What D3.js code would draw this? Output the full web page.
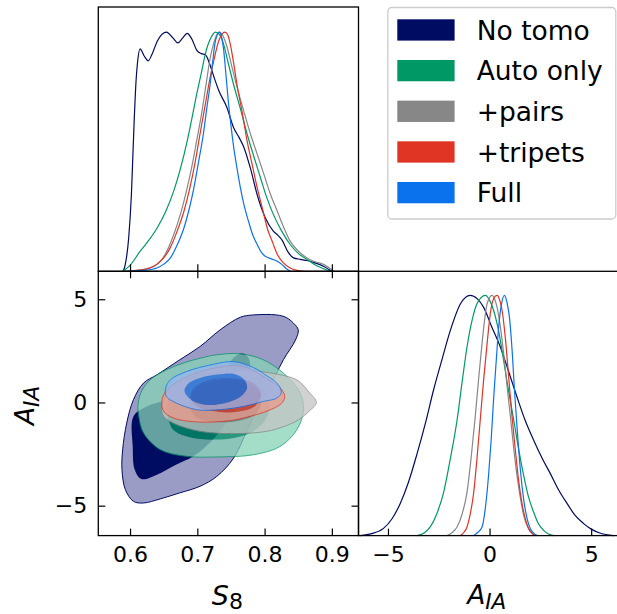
<!DOCTYPE html>
<html>
<head>
<meta charset="utf-8">
<script src="https://cdn.jsdelivr.net/npm/d3@7"></script>
<style>
  body { margin: 0; background: #fff; }
  svg { display: block; font-family: "DejaVu Sans", sans-serif; }
</style>
</head>
<body>
<div id="chart"></div>
<script>
// series, in drawing order
const seriesNames = ["No tomo", "Auto only", "+pairs", "+tripets", "Full"];
const seriesColors = ["#000b62", "#009966", "#878787", "#e03424", "#0a72ec"];
const lightColors = ["#9a9cc6", "#87d3b6", "#c4c4c4", "#ee9a8c", "#93b6f0"];
const layerAlpha = [1, 0.75, 0.75, 0.75, 0.75];

const s8Ticks = [0.6, 0.7, 0.8, 0.9];
const aiaTicks = [-5, 0, 5];

// 1D marginals of S8: [S8, P/Pmax]
const s8NoTomo = [[0.590,0],[0.593,0.03],[0.598,0.14],[0.602,0.32],[0.606,0.62],[0.609,0.8],[0.611,0.87],[0.615,0.93],[0.621,0.90],[0.627,0.88],[0.633,0.91],[0.641,0.965],[0.654,1.0],[0.664,0.975],[0.671,0.955],[0.678,0.975],[0.685,0.995],[0.692,0.97],[0.699,0.925],[0.706,0.91],[0.712,0.905],[0.718,0.87],[0.725,0.81],[0.732,0.755],[0.744,0.685],[0.754,0.60],[0.762,0.56],[0.769,0.52],[0.779,0.43],[0.789,0.32],[0.801,0.224],[0.813,0.168],[0.820,0.15],[0.826,0.13],[0.835,0.08],[0.843,0.056],[0.853,0.05],[0.863,0.045],[0.875,0.035],[0.888,0.02],[0.900,0]];
const s8Auto = [[0.589,0],[0.600,0.025],[0.615,0.084],[0.628,0.13],[0.640,0.18],[0.653,0.25],[0.665,0.336],[0.675,0.43],[0.685,0.545],[0.692,0.64],[0.699,0.74],[0.706,0.83],[0.712,0.91],[0.720,0.975],[0.727,1.0],[0.733,0.99],[0.739,0.95],[0.746,0.87],[0.754,0.78],[0.764,0.68],[0.774,0.574],[0.784,0.48],[0.794,0.39],[0.803,0.31],[0.813,0.238],[0.825,0.17],[0.838,0.112],[0.850,0.075],[0.863,0.05],[0.880,0.02],[0.898,0]];
const s8Pairs = [[0.593,0],[0.620,0.008],[0.640,0.028],[0.652,0.07],[0.665,0.154],[0.675,0.24],[0.685,0.35],[0.692,0.44],[0.699,0.545],[0.707,0.67],[0.714,0.80],[0.719,0.89],[0.724,0.95],[0.732,1.0],[0.738,0.985],[0.744,0.94],[0.751,0.86],[0.759,0.77],[0.769,0.67],[0.779,0.574],[0.789,0.49],[0.799,0.405],[0.809,0.32],[0.819,0.25],[0.829,0.18],[0.838,0.126],[0.850,0.085],[0.863,0.056],[0.875,0.04],[0.888,0.028],[0.903,0]];
const s8Triplets = [[0.593,0],[0.615,0.005],[0.630,0.014],[0.640,0.03],[0.650,0.056],[0.660,0.1],[0.670,0.168],[0.680,0.25],[0.689,0.35],[0.697,0.46],[0.704,0.574],[0.712,0.70],[0.719,0.81],[0.726,0.90],[0.732,0.965],[0.741,1.0],[0.745,0.99],[0.749,0.95],[0.754,0.87],[0.759,0.78],[0.767,0.66],[0.774,0.545],[0.782,0.44],[0.789,0.35],[0.797,0.26],[0.804,0.18],[0.812,0.12],[0.819,0.07],[0.828,0.035],[0.838,0.014],[0.850,0.003],[0.860,0]];
const s8Full = [[0.598,0],[0.620,0.004],[0.640,0.014],[0.650,0.03],[0.660,0.056],[0.670,0.11],[0.680,0.18],[0.687,0.25],[0.694,0.336],[0.702,0.46],[0.709,0.574],[0.714,0.68],[0.719,0.78],[0.723,0.88],[0.727,0.965],[0.733,1.0],[0.736,0.98],[0.739,0.93],[0.742,0.84],[0.746,0.713],[0.750,0.61],[0.754,0.52],[0.759,0.43],[0.764,0.35],[0.770,0.27],[0.776,0.21],[0.782,0.155],[0.789,0.112],[0.795,0.08],[0.801,0.063],[0.807,0.055],[0.813,0.049],[0.820,0.04],[0.826,0.028],[0.832,0.012],[0.838,0]];

// 1D marginals of A_IA: [A_IA, P/Pmax]
const aNoTomo = [[-6.37,0],[-5.8,0.008],[-5.22,0.03],[-4.8,0.07],[-4.40,0.133],[-4.0,0.22],[-3.57,0.34],[-3.15,0.47],[-2.76,0.605],[-2.35,0.73],[-1.93,0.854],[-1.43,0.965],[-0.95,1.0],[-0.6,0.985],[-0.29,0.95],[0.1,0.87],[0.53,0.785],[0.95,0.68],[1.35,0.577],[1.75,0.48],[2.17,0.397],[2.6,0.32],[2.99,0.258],[3.4,0.19],[3.82,0.133],[4.2,0.085],[4.63,0.05],[5.0,0.027],[5.46,0.01],[6.1,0]];
const aAuto = [[-3.57,0],[-3.2,0.012],[-2.92,0.036],[-2.6,0.09],[-2.26,0.18],[-1.93,0.32],[-1.60,0.48],[-1.35,0.64],[-1.11,0.785],[-0.85,0.9],[-0.62,0.965],[-0.21,1.0],[0.0,0.98],[0.20,0.937],[0.45,0.85],[0.69,0.73],[0.94,0.6],[1.19,0.48],[1.43,0.36],[1.68,0.25],[1.92,0.16],[2.17,0.097],[2.4,0.05],[2.66,0.022],[2.9,0.007],[3.16,0]];
const aPairs = [[-2.10,0],[-1.85,0.012],[-1.60,0.036],[-1.35,0.09],[-1.11,0.18],[-0.9,0.33],[-0.70,0.5],[-0.53,0.66],[-0.37,0.8],[-0.24,0.9],[-0.12,0.965],[0.12,1.0],[0.25,0.985],[0.37,0.95],[0.53,0.87],[0.69,0.76],[0.85,0.63],[1.02,0.5],[1.18,0.37],[1.35,0.25],[1.52,0.155],[1.68,0.083],[1.88,0.035],[2.09,0.01],[2.3,0]];
const aTriplets = [[-1.44,0],[-1.25,0.015],[-1.11,0.036],[-0.95,0.09],[-0.78,0.18],[-0.62,0.32],[-0.46,0.48],[-0.29,0.65],[-0.12,0.8],[0.03,0.92],[0.17,0.98],[0.37,1.0],[0.50,0.98],[0.61,0.94],[0.78,0.82],[0.94,0.66],[1.10,0.5],[1.27,0.355],[1.43,0.23],[1.60,0.133],[1.76,0.07],[1.92,0.03],[2.1,0.008],[2.25,0]];
const aFull = [[-0.78,0],[-0.6,0.012],[-0.37,0.036],[-0.2,0.12],[-0.05,0.25],[0.08,0.4],[0.20,0.57],[0.33,0.73],[0.45,0.87],[0.58,0.96],[0.73,1.0],[0.86,0.97],[0.99,0.9],[1.11,0.77],[1.23,0.6],[1.37,0.43],[1.52,0.27],[1.68,0.15],[1.85,0.07],[2.0,0.03],[2.17,0.01],[2.35,0]];

// 2D contours (68% inner, 95% outer): [S8, A_IA]
const noTomoOuter = [[0.850,3.52],[0.843,3.84],[0.832,4.12],[0.818,4.24],[0.783,4.24],[0.764,4.13],[0.734,3.52],[0.704,2.71],[0.674,2.07],[0.640,1.34],[0.620,0.94],[0.605,0.13],[0.595,-1.00],[0.589,-2.29],[0.588,-3.26],[0.593,-4.22],[0.605,-4.79],[0.620,-4.87],[0.645,-4.67],[0.674,-4.38],[0.704,-4.06],[0.729,-3.58],[0.754,-2.69],[0.779,-1.00],[0.803,0.45],[0.828,2.07],[0.846,3.03]];
const noTomoInner = [[0.605,-0.68],[0.604,-2.13],[0.607,-3.26],[0.617,-3.71],[0.640,-3.50],[0.669,-3.01],[0.694,-2.61],[0.720,-1.9],[0.745,-0.9],[0.765,0.3],[0.776,1.4],[0.778,2.0],[0.772,2.3],[0.763,2.36],[0.752,2.1],[0.734,1.25],[0.700,0.6],[0.660,0.15],[0.625,-0.2]];
const autoOuter = [[0.612,-0.03],[0.618,0.6],[0.630,1.10],[0.652,1.55],[0.679,1.91],[0.705,2.15],[0.729,2.31],[0.764,2.36],[0.798,2.07],[0.828,1.42],[0.853,0.45],[0.858,-0.35],[0.848,-1.32],[0.823,-2.13],[0.784,-2.53],[0.729,-2.64],[0.684,-2.61],[0.645,-2.29],[0.620,-1.48],[0.613,-0.68]];
const autoInner = [[0.657,-0.8],[0.664,-1.32],[0.680,-1.6],[0.704,-1.77],[0.729,-1.80],[0.754,-1.72],[0.780,-1.45],[0.800,-0.9],[0.808,-0.2],[0.800,0.6],[0.775,1.2],[0.735,1.45],[0.695,1.3],[0.668,0.7],[0.655,-0.1]];
const pairsOuter = [[0.647,-0.35],[0.650,0.13],[0.660,0.6],[0.680,1.0],[0.710,1.3],[0.750,1.5],[0.780,1.55],[0.805,1.45],[0.830,1.3],[0.850,1.05],[0.866,0.5],[0.877,0.0],[0.867,-0.4],[0.850,-0.85],[0.830,-1.15],[0.803,-1.40],[0.754,-1.51],[0.704,-1.40],[0.664,-1.00],[0.650,-0.68]];
const pairsInner = [[0.690,-0.3],[0.700,-0.75],[0.730,-0.95],[0.760,-0.9],[0.785,-0.6],[0.795,0.0],[0.790,0.6],[0.770,1.0],[0.740,1.1],[0.710,0.9],[0.690,0.4]];
const tripletsOuter = [[0.647,-0.11],[0.650,0.37],[0.664,0.86],[0.694,1.38],[0.734,1.72],[0.760,1.78],[0.780,1.6],[0.803,1.15],[0.822,0.75],[0.830,0.3],[0.825,-0.05],[0.805,-0.40],[0.775,-0.70],[0.749,-0.88],[0.704,-0.95],[0.669,-0.80],[0.652,-0.51]];
const tripletsInner = [[0.690,0.2],[0.700,-0.2],[0.730,-0.45],[0.760,-0.45],[0.785,-0.2],[0.795,0.4],[0.785,0.9],[0.760,1.15],[0.720,1.1],[0.695,0.7]];
const fullOuter = [[0.653,0.70],[0.660,1.10],[0.684,1.50],[0.724,1.85],[0.754,1.98],[0.783,1.70],[0.803,1.30],[0.818,0.95],[0.825,0.50],[0.818,0.21],[0.798,0.05],[0.769,-0.19],[0.734,-0.35],[0.699,-0.35],[0.669,-0.03],[0.654,0.29]];
const fullInner = [[0.681,0.55],[0.688,0.95],[0.705,1.2],[0.730,1.35],[0.755,1.38],[0.770,1.1],[0.774,0.7],[0.765,0.3],[0.745,0.0],[0.715,-0.12],[0.692,0.1]];

const s8Curves = [s8NoTomo, s8Auto, s8Pairs, s8Triplets, s8Full];
const aCurves = [aNoTomo, aAuto, aPairs, aTriplets, aFull];
const outerContours = [noTomoOuter, autoOuter, pairsOuter, tripletsOuter, fullOuter];
const innerContours = [noTomoInner, autoInner, pairsInner, tripletsInner, fullInner];

// panel edges in px
const W = 617, H = 614;
const L = 98.3, M = 358.5, R = 618.7, T = 7, MY = 271.3, B = 535.6;

const svg = d3.select("#chart").append("svg")
    .attr("width", W)
    .attr("height", H);

// scales
const xS8 = d3.scaleLinear().domain([0.5528, 0.9396]).range([L, M]);
const yA = d3.scaleLinear().domain([-6.45, 6.355]).range([B, MY]);
const xA = d3.scaleLinear().domain([-6.45, 6.355]).range([M, R]);
const yTop = d3.scaleLinear().domain([0, 1.105]).range([MY, T]);
const yRight = d3.scaleLinear().domain([0, 1.1]).range([B, MY]);

// 2D filled contours
const contourLine = d3.line()
    .x(d => xS8(d[0]))
    .y(d => yA(d[1]))
    .curve(d3.curveCatmullRomClosed.alpha(0.5));

outerContours.forEach((outer, i) => {
    const g = svg.append("g").attr("opacity", layerAlpha[i]);
    g.append("path")
        .attr("d", contourLine(outer))
        .attr("fill", lightColors[i])
        .attr("stroke", seriesColors[i])
        .attr("stroke-width", 1);
    g.append("path")
        .attr("d", contourLine(innerContours[i]))
        .attr("fill", seriesColors[i]);
});

// 1D curves
const topLine = d3.line()
    .x(d => xS8(d[0]))
    .y(d => yTop(d[1]))
    .curve(d3.curveMonotoneX);
const rightLine = d3.line()
    .x(d => xA(d[0]))
    .y(d => yRight(d[1]))
    .curve(d3.curveMonotoneX);

s8Curves.forEach((c, i) => {
    svg.append("path")
        .attr("d", topLine(c))
        .attr("fill", "none")
        .attr("stroke", seriesColors[i])
        .attr("stroke-width", 1.2);
});
aCurves.forEach((c, i) => {
    svg.append("path")
        .attr("d", rightLine(c))
        .attr("fill", "none")
        .attr("stroke", seriesColors[i])
        .attr("stroke-width", 1.2);
});

// axes, ticks pointing inwards
function styleAxis(g) {
    g.select(".domain").remove();
    g.selectAll(".tick line").attr("stroke", "#000").attr("stroke-width", 1.2);
    g.selectAll(".tick text").attr("fill", "#000").style("font-size", "22px")
        .style("font-family", "'DejaVu Sans', sans-serif");
}

svg.append("g")
    .attr("transform", `translate(0,${MY})`)
    .call(d3.axisBottom(xS8).tickValues(s8Ticks).tickSize(-7).tickFormat(""))
    .call(styleAxis);
svg.append("g")
    .attr("transform", `translate(0,${MY})`)
    .call(d3.axisTop(xS8).tickValues(s8Ticks).tickSize(-7).tickFormat(""))
    .call(styleAxis);
svg.append("g")
    .attr("transform", `translate(0,${B})`)
    .call(d3.axisBottom(xS8).tickValues(s8Ticks).tickSize(-7).tickPadding(11).tickFormat(d3.format(".1f")))
    .call(styleAxis);
svg.append("g")
    .attr("transform", `translate(${L},0)`)
    .call(d3.axisLeft(yA).tickValues(aiaTicks).tickSize(-7).tickPadding(11).tickFormat(d3.format("d")))
    .call(styleAxis);
svg.append("g")
    .attr("transform", `translate(${M},0)`)
    .call(d3.axisRight(yA).tickValues(aiaTicks).tickSize(-7).tickFormat(""))
    .call(styleAxis);
svg.append("g")
    .attr("transform", `translate(0,${B})`)
    .call(d3.axisBottom(xA).tickValues(aiaTicks).tickSize(-7).tickPadding(11).tickFormat(d3.format("d")))
    .call(styleAxis);

// panel frames
[[L, T, M - L, MY - T], [L, MY, M - L, B - MY], [M, MY, R - M, B - MY]].forEach(f => {
    svg.append("rect")
        .attr("x", f[0]).attr("y", f[1])
        .attr("width", f[2]).attr("height", f[3])
        .attr("fill", "none")
        .attr("stroke", "#000")
        .attr("stroke-width", 1.3);
});

// axis labels
const s8Label = svg.append("text")
    .attr("x", (L + M) / 2 - 1)
    .attr("y", 605)
    .attr("text-anchor", "middle")
    .style("font-size", "27px");
s8Label.append("tspan").style("font-style", "italic").text("S");
s8Label.append("tspan").style("font-size", "22px").attr("dy", 4).text("8");

const aLabel = svg.append("text")
    .attr("x", (M + W) / 2 - 1)
    .attr("y", 604)
    .attr("text-anchor", "middle")
    .style("font-size", "26.5px")
    .style("font-style", "italic");
aLabel.append("tspan").text("A");
aLabel.append("tspan").style("font-size", "21.5px").attr("dy", 5).text("IA");

const yLabel = svg.append("text")
    .attr("transform", `translate(34,${(MY + B) / 2 + 2}) rotate(-90)`)
    .attr("text-anchor", "middle")
    .style("font-size", "26.5px")
    .style("font-style", "italic");
yLabel.append("tspan").text("A");
yLabel.append("tspan").style("font-size", "21.5px").attr("dy", 5).text("IA");

// legend
const legend = svg.append("g");
legend.append("rect")
    .attr("x", 387.8).attr("y", 7.5)
    .attr("width", 228).attr("height", 211.5)
    .attr("rx", 4)
    .attr("fill", "#fff")
    .attr("stroke", "#cccccc")
    .attr("stroke-width", 1.3);
seriesNames.forEach((name, i) => {
    const cy = 30 + i * 40.67;
    legend.append("rect")
        .attr("x", 397.3).attr("y", cy - 10.7)
        .attr("width", 57.3).attr("height", 21.3)
        .attr("fill", seriesColors[i]);
    legend.append("text")
        .attr("x", 476.7).attr("y", cy + 9.5)
        .style("font-size", "26.5px")
        .text(name);
});
</script>
</body>
</html>
